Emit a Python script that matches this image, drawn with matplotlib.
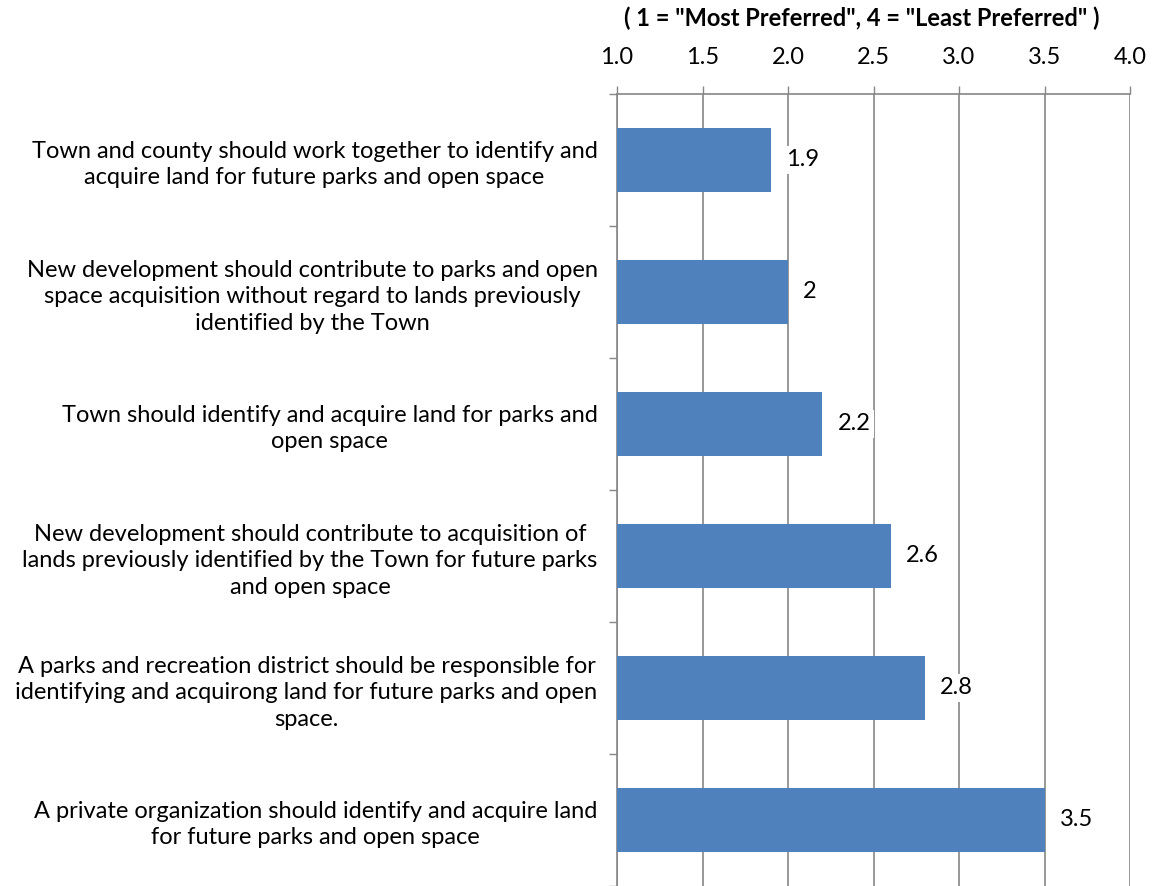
import matplotlib
matplotlib.use("Agg")
import matplotlib.pyplot as plt
import numpy as np

categories = [
    "Town and county should work together to identify and\nacquire land for future parks and open space",
    "New development should contribute to parks and open\nspace acquisition without regard to lands previously\nidentified by the Town",
    "Town should identify and acquire land for parks and\nopen space",
    "New development should contribute to acquisition of\nlands previously identified by the Town for future parks\nand open space",
    "A parks and recreation district should be responsible for\nidentifying and acquirong land for future parks and open\nspace.",
    "A private organization should identify and acquire land\nfor future parks and open space",
]
values = [1.9, 2.0, 2.2, 2.6, 2.8, 3.5]
value_labels = ["1.9", "2", "2.2", "2.6", "2.8", "3.5"]
xticks = [1.0, 1.5, 2.0, 2.5, 3.0, 3.5, 4.0]
title = '( 1 = "Most Preferred", 4 = "Least Preferred" )'

plt.rcParams['font.family'] = ['Lato', 'DejaVu Sans']

fig = plt.figure(figsize=(11.52, 8.86), dpi=100)
ax = fig.add_axes([617/1152, 0.0, (1130-617)/1152, 1 - 94/886])

y = np.arange(len(categories))
base = 1.0
ax.barh(y, [v - base for v in values], left=base, height=0.49, color='#4F81BD', zorder=3)

ax.set_xlim(1.0, 4.0)
ax.set_ylim(len(categories) - 0.5, -0.5)

ax.xaxis.tick_top()
ax.set_xticks(xticks)
ax.set_xticklabels([f"{t:.1f}" for t in xticks], fontsize=17)
ax.tick_params(axis='x', direction='out', length=6, width=1, color='#868686', pad=13)
ax.grid(axis='x', color='#868686', linewidth=1.2, zorder=0)

ax.set_yticks(y)
ax.set_yticklabels(categories, fontsize=17, multialignment='center', linespacing=1.32)
ax.tick_params(axis='y', which='major', length=0, pad=14)
ax.set_yticks(np.arange(-0.5, len(categories) + 0.5, 1), minor=True)
ax.tick_params(axis='y', which='minor', direction='out', length=6, width=1, color='#868686')

for s in ['right', 'bottom']:
    ax.spines[s].set_visible(False)
for s in ['left', 'top']:
    ax.spines[s].set_color('#868686')
    ax.spines[s].set_linewidth(1.2)

for yi, v, lab in zip(y, values, value_labels):
    ax.annotate(lab, xy=(v, yi), xytext=(11, 0), textcoords='offset points',
                ha='left', va='center', fontsize=17, zorder=4,
                bbox=dict(boxstyle='square,pad=0.15', fc='white', ec='none'))

fig.text(862/1152, 1 - 18/886, title, ha='center', va='center',
         fontsize=17, fontweight='bold')

fig.savefig("out.png", dpi=100)
